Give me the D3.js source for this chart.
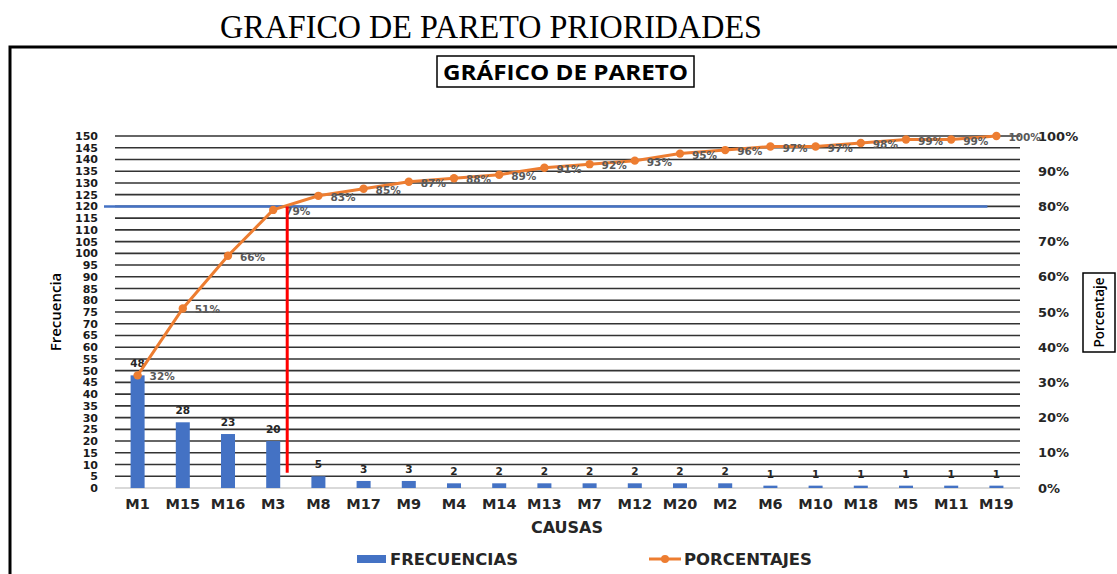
<!DOCTYPE html>
<html>
<head>
<meta charset="utf-8">
<script src="https://cdn.jsdelivr.net/npm/d3@7"></script>
<style>
  html, body { margin: 0; padding: 0; background: #fff; }
  svg { display: block; }
</style>
</head>
<body>
<svg id="chart" width="1117" height="574"></svg>
<script>
// ---- DATA ----
const categories = ["M1","M15","M16","M3","M8","M17","M9","M4","M14","M13","M7","M12","M20","M2","M6","M10","M18","M5","M11","M19"];
const frequencies = [48,28,23,20,5,3,3,2,2,2,2,2,2,2,1,1,1,1,1,1];
const percentages = [32,51,66,79,83,85,87,88,89,91,92,93,95,96,97,97,98,99,99,100];
const freqTicks = d3.range(0, 151, 5);
const pctTicks = [0,10,20,30,40,50,60,70,80,90,100];
const threshold = 120;       // 80% reference level (frequency units)
const cutBottom = 6.5;       // bottom of the red cut line (frequency units)
const outerTitle = "GRAFICO DE PARETO PRIORIDADES";
const innerTitle = "GRÁFICO DE PARETO";

// ---- LAYOUT ----
const svg = d3.select("#chart");
const plot = { left: 115, right: 1019, top: 136, bottom: 488 };
const BLUE = "#4472C4", ORANGE = "#ED7D31";
const tickFont = "'DejaVu Sans', Verdana, sans-serif";

const x = d3.scaleBand().domain(categories).range([plot.left, plot.right])
  .paddingInner(0.69).paddingOuter(0.345);
const cx = d => x(d) + x.bandwidth() / 2;
const y = d3.scaleLinear().domain([0, 150]).range([plot.bottom, plot.top]);
const yp = d3.scaleLinear().domain([0, 100]).range([plot.bottom, plot.top]);

svg.append("rect").attr("width", 1117).attr("height", 574).attr("fill", "#fff");

// outer title
svg.append("text").attr("x", 220).attr("y", 38)
  .attr("textLength", 542).attr("lengthAdjust", "spacingAndGlyphs")
  .style("font-family", "'Liberation Serif', 'Times New Roman', serif")
  .style("font-size", "34px").attr("fill", "#000").text(outerTitle);

// frame
svg.append("path").attr("d", "M10,580 L10,47 L1125,47")
  .attr("fill", "none").attr("stroke", "#000").attr("stroke-width", 3);

// inner title box
svg.append("rect").attr("x", 437).attr("y", 56).attr("width", 257).attr("height", 31)
  .attr("fill", "#fff").attr("stroke", "#000").attr("stroke-width", 1.5);
svg.append("text").attr("x", 443).attr("y", 80)
  .attr("textLength", 245).attr("lengthAdjust", "spacingAndGlyphs")
  .style("font-family", "'Open Sans', sans-serif").style("font-weight", 700)
  .style("font-size", "21px").attr("fill", "#000").text(innerTitle);

// gridlines
svg.append("g").selectAll("line").data(freqTicks).join("line")
  .attr("x1", plot.left).attr("x2", plot.right + 1)
  .attr("y1", d => y(d)).attr("y2", d => y(d))
  .attr("stroke", d => d === 0 ? "#d9d9d9" : "#333")
  .attr("stroke-width", d => d === 0 ? 2 : 1.6);

// left axis labels
const yAxis = d3.axisLeft(y).tickValues(freqTicks).tickSize(0).tickPadding(0);
const gy = svg.append("g").attr("transform", "translate(98,0)").call(yAxis);
gy.select(".domain").remove();
gy.selectAll("text").style("font-family", tickFont).style("font-weight", 700)
  .style("font-size", "11px").attr("fill", "#1a1a1a");

// right axis labels
const yAxisR = d3.axisRight(yp).tickValues(pctTicks).tickSize(0).tickPadding(0)
  .tickFormat(d => d + "%");
const gyr = svg.append("g").attr("transform", "translate(1038,0)").call(yAxisR);
gyr.select(".domain").remove();
gyr.selectAll("text").style("font-family", tickFont).style("font-weight", 700)
  .style("font-size", "13px").attr("fill", "#262626");

// x axis labels
const xAxis = d3.axisBottom(x).tickSize(0).tickPadding(0);
const gx = svg.append("g").attr("transform", "translate(0,499)").call(xAxis);
gx.select(".domain").remove();
gx.selectAll("text").style("font-family", tickFont).style("font-weight", 700)
  .style("font-size", "14.5px").attr("fill", "#262626");

// axis titles
svg.append("text").attr("x", 567).attr("y", 533).attr("text-anchor", "middle")
  .style("font-family", tickFont).style("font-weight", 700).style("font-size", "16px")
  .attr("fill", "#262626").text("CAUSAS");
svg.append("text").attr("transform", "translate(61,312) rotate(-90)").attr("text-anchor", "middle")
  .style("font-family", "'Open Sans', sans-serif").style("font-weight", 600).style("font-size", "15px")
  .attr("fill", "#000").text("Frecuencia");
svg.append("rect").attr("x", 1083).attr("y", 273).attr("width", 32).attr("height", 79)
  .attr("fill", "#fff").attr("stroke", "#000").attr("stroke-width", 1.5);
svg.append("text").attr("transform", "translate(1104,312.5) rotate(-90)").attr("text-anchor", "middle")
  .style("font-family", "'Open Sans', sans-serif").style("font-weight", 600).style("font-size", "13.5px")
  .attr("fill", "#000").text("Porcentaje");

// bars
svg.append("g").selectAll("rect").data(frequencies).join("rect")
  .attr("x", (d, i) => x(categories[i])).attr("width", x.bandwidth())
  .attr("y", d => y(d)).attr("height", d => y(0) - y(d)).attr("fill", BLUE);

// bar labels
svg.append("g").selectAll("text").data(frequencies).join("text")
  .attr("x", (d, i) => cx(categories[i])).attr("y", d => y(d) - 8)
  .attr("text-anchor", "middle")
  .style("font-family", tickFont).style("font-weight", 700).style("font-size", "10.5px")
  .attr("fill", "#262626").text(d => d);

// reference lines
const step = x.step();
svg.append("line").attr("x1", plot.left - 11).attr("x2", cx("M19") - 9)
  .attr("y1", y(threshold)).attr("y2", y(threshold))
  .attr("stroke", BLUE).attr("stroke-width", 2.5);

// cumulative line
const line = d3.line().x((d, i) => cx(categories[i])).y(d => yp(d));
svg.append("path").datum(percentages).attr("d", line)
  .attr("fill", "none").attr("stroke", ORANGE).attr("stroke-width", 3);
svg.append("g").selectAll("circle").data(percentages).join("circle")
  .attr("cx", (d, i) => cx(categories[i])).attr("cy", d => yp(d)).attr("r", 4.2)
  .attr("fill", ORANGE);
svg.append("g").selectAll("text").data(percentages).join("text")
  .attr("x", (d, i) => cx(categories[i]) + 12).attr("y", d => yp(d) + 5)
  .style("font-family", tickFont).style("font-weight", 700).style("font-size", "10.5px")
  .attr("fill", "#595959").text(d => d + "%");

// red cut line
const cutX = cx("M3") + step * 0.31;
svg.append("line").attr("x1", cutX).attr("x2", cutX)
  .attr("y1", y(threshold)).attr("y2", y(cutBottom))
  .attr("stroke", "#FF0000").attr("stroke-width", 3);

// legend
svg.append("rect").attr("x", 357).attr("y", 555).attr("width", 29).attr("height", 8).attr("fill", BLUE);
svg.append("text").attr("x", 390).attr("y", 565)
  .attr("textLength", 128).attr("lengthAdjust", "spacingAndGlyphs")
  .style("font-family", tickFont).style("font-weight", 700).style("font-size", "15px")
  .attr("fill", "#262626").text("FRECUENCIAS");
svg.append("line").attr("x1", 649).attr("x2", 681).attr("y1", 559).attr("y2", 559)
  .attr("stroke", ORANGE).attr("stroke-width", 3);
svg.append("circle").attr("cx", 665).attr("cy", 559).attr("r", 4).attr("fill", ORANGE);
svg.append("text").attr("x", 684).attr("y", 565)
  .attr("textLength", 128).attr("lengthAdjust", "spacingAndGlyphs")
  .style("font-family", tickFont).style("font-weight", 700).style("font-size", "15px")
  .attr("fill", "#262626").text("PORCENTAJES");
</script>
</body>
</html>
